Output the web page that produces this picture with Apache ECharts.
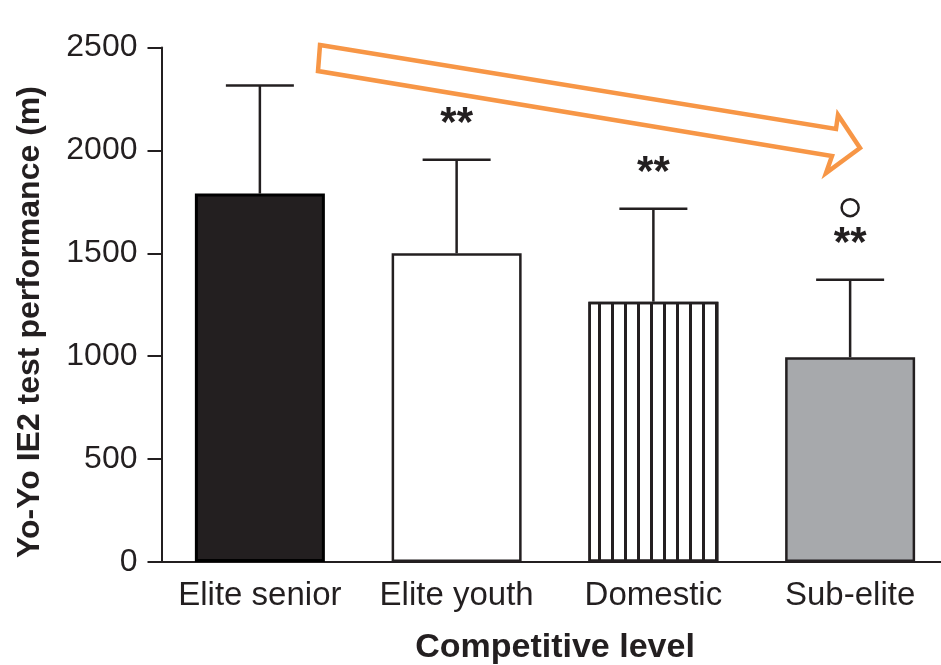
<!DOCTYPE html>
<html>
<head>
<meta charset="utf-8">
<script src="https://cdn.jsdelivr.net/npm/echarts@6/dist/echarts.min.js"></script>
<style>
html,body{margin:0;padding:0;background:#fff;}
#chart{width:941px;height:665px;}
</style>
</head>
<body>
<div id="chart"></div>
<script>
// ---- data ----
const categories = ['Elite senior', 'Elite youth', 'Domestic', 'Sub-elite'];
const means = [1790, 1500, 1265, 995];
const sds = [525, 455, 452, 377];
const sigMarks = ['', '**', '**', '**'];
const circleMarks = [false, false, false, true];
const yTicks = [0, 500, 1000, 1500, 2000, 2500];
const yTitle = 'Yo-Yo IE2 test performance (m)';
const xTitle = 'Competitive level';

// ---- styles ----
const INK = '#231f20';
const FONT = '"Liberation Sans", Arial, sans-serif';
const barStyles = [
  { color: '#231f20', borderColor: '#000', borderWidth: 3 },
  { color: '#ffffff', borderColor: INK, borderWidth: 2.5 },
  { color: '#ffffff', borderColor: INK, borderWidth: 2.5,
    decal: { symbol: 'rect', symbolSize: 1, color: INK, dashArrayX: [2.5, 9.5], dashArrayY: [10, 0], rotation: 0 } },
  { color: '#a7a9ac', borderColor: INK, borderWidth: 2.5 }
];

const barData = means.map((v, i) => ({ value: v, itemStyle: barStyles[i] }));
const errData = means.map((v, i) => [i, v, v + sds[i]]);

const chart = echarts.init(document.getElementById('chart'), null, { renderer: 'canvas' });

const option = {
  animation: false,
  backgroundColor: '#ffffff',
  grid: { left: 161.5, width: 787, top: 47.5, bottom: 103, containLabel: false, outerBoundsMode: 'none' },
  xAxis: {
    type: 'category',
    data: categories,
    name: xTitle,
    nameLocation: 'middle',
    nameGap: 69,
    nameTextStyle: { fontFamily: FONT, fontSize: 34, fontWeight: 'bold', color: INK },
    axisLine: { lineStyle: { color: INK, width: 2 } },
    axisTick: { alignWithLabel: true, length: 13, lineStyle: { color: INK, width: 2 } },
    axisLabel: { fontFamily: FONT, fontSize: 33, color: INK, margin: 17, interval: 0 }
  },
  yAxis: {
    type: 'value',
    min: yTicks[0],
    max: yTicks[yTicks.length - 1],
    interval: yTicks[1] - yTicks[0],
    axisLine: { show: true, lineStyle: { color: INK, width: 2 } },
    axisTick: { show: true, length: 14, lineStyle: { color: INK, width: 2 } },
    axisLabel: { fontFamily: FONT, fontSize: 32, color: INK, margin: 24, formatter: function (v) { return String(v); } },
    splitLine: { show: false }
  },
  graphic: [
    {
      type: 'text',
      x: 30, y: 322,
      rotation: Math.PI / 2,
      style: {
        text: yTitle,
        font: 'bold 32px ' + FONT,
        fill: INK,
        textAlign: 'center', textVerticalAlign: 'middle',
        align: 'center', verticalAlign: 'middle'
      },
      z: 10
    },
    {
      type: 'polygon',
      shape: { points: [[320, 45], [836, 129], [838, 115], [860, 148], [826, 173], [832, 156], [318, 71]] },
      style: { fill: 'rgba(255,255,255,0)', stroke: '#f79646', lineWidth: 4.5, lineJoin: 'miter' },
      z: 20
    }
  ],
  series: [
    {
      type: 'bar',
      data: barData,
      barWidth: 130,
      z: 2
    },
    {
      type: 'custom',
      data: errData,
      z: 5,
      renderItem: function (params, api) {
        const i = api.value(0);
        const top = api.coord([i, api.value(2)]);
        const base = api.coord([i, api.value(1)]);
        const half = 34;
        const children = [
          { type: 'line', shape: { x1: base[0], y1: base[1], x2: top[0], y2: top[1] }, style: { stroke: INK, lineWidth: 2.5 } },
          { type: 'line', shape: { x1: top[0] - half, y1: top[1], x2: top[0] + half, y2: top[1] }, style: { stroke: INK, lineWidth: 2.5 } }
        ];
        const s = sigMarks[params.dataIndex];
        if (s) {
          children.push({
            type: 'text', x: top[0], y: top[1] - 44 + 9,
            style: { text: s, font: 'bold 42px ' + FONT, fill: INK, align: 'center', verticalAlign: 'middle' }
          });
        }
        if (circleMarks[params.dataIndex]) {
          children.push({
            type: 'circle', shape: { cx: top[0], cy: top[1] - 72, r: 8.5 },
            style: { fill: 'none', stroke: INK, lineWidth: 2.5 }
          });
        }
        return { type: 'group', children: children };
      }
    }
  ]
};
chart.setOption(option);
</script>
</body>
</html>
